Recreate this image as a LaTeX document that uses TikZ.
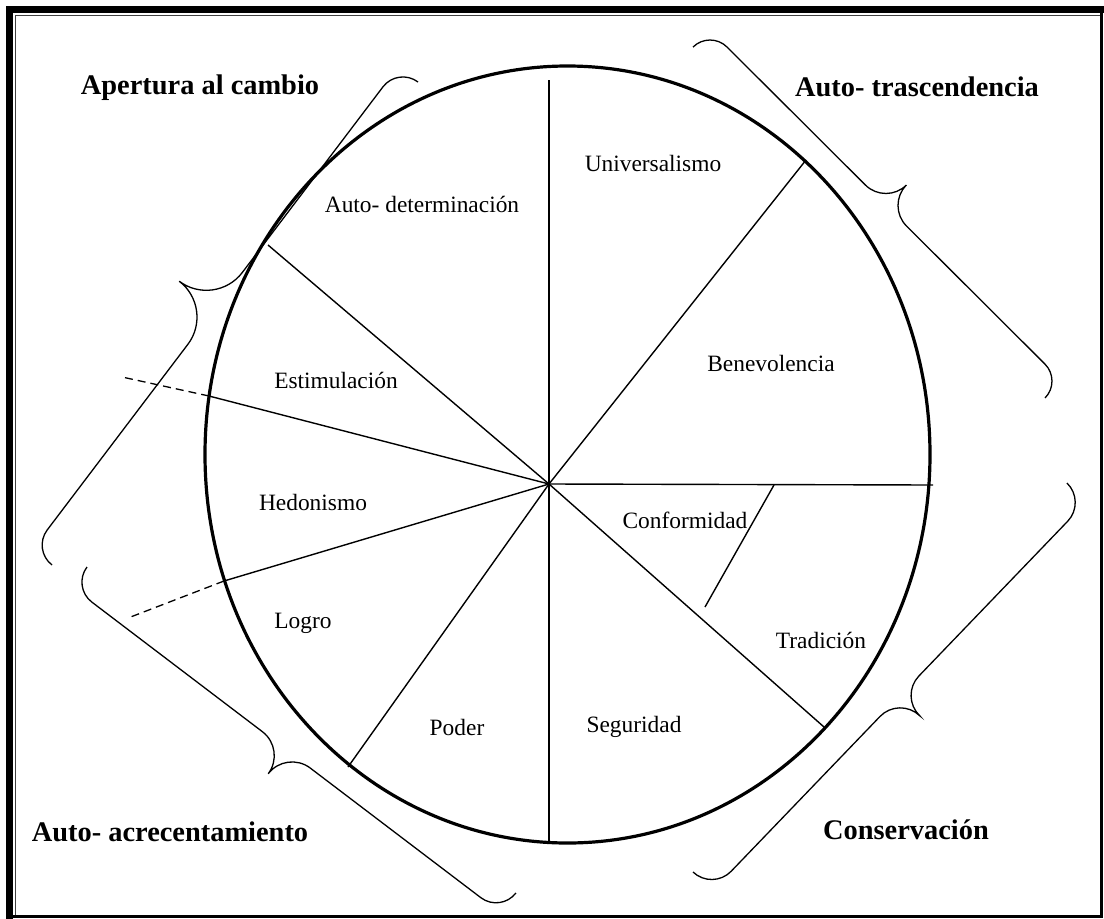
\documentclass[tikz,border=0pt]{standalone}
\usepackage{fontspec}
\setmainfont{Liberation Serif}
\usetikzlibrary{calc}

% curly brace from (#1,#2) to (#3,#4), bulging to the right of that direction;
% #5 = end hook, #6 = middle cusp
\newcommand\llave[6]{%
  \pgfmathsetmacro\llang{atan2(#2-#4,#3-#1)}%
  \pgfmathsetmacro\lllen{veclen(#3-#1,#4-#2)}%
  \pgfmathsetmacro\llmid{\lllen/2}%
  \begin{scope}[shift={(#1,#2)}, rotate=\llang]
    \draw[llave] (0,0) .. controls (0,{0.55*#5}) and ({0.45*#5},#5) .. (#5,#5)
      -- ({\llmid-#6},#5) .. controls ({\llmid-0.45*#6},#5) and (\llmid,{#5+0.45*#6}) .. (\llmid,{#5+#6})
      .. controls (\llmid,{#5+0.45*#6}) and ({\llmid+0.45*#6},#5) .. ({\llmid+#6},#5)
      -- ({\lllen-#5},#5) .. controls ({\lllen-0.45*#5},#5) and (\lllen,{0.55*#5}) .. (\lllen,0);
  \end{scope}}

\begin{document}
\begin{tikzpicture}[x=1pt, y=-1pt,
    valor/.style={font=\fontsize{23.4}{28}\selectfont},
    grupo/.style={font=\fontsize{28.4}{34}\selectfont\bfseries},
    radio/.style={line width=1.4pt},
    guia/.style={line width=1.3pt, dash pattern=on 8pt off 5pt},
    llave/.style={line width=1.3pt}
  ]
  \useasboundingbox (0,0) rectangle (1104,919);

  % page frame
  \draw[line width=7pt] (9.5,919) -- (9.5,9.5) -- (1104,9.5);
  \draw[line width=1.2pt, black!75] (15.5,916.5) -- (15.5,15.5) -- (1101.5,15.5);
  \draw[line width=3pt] (1101.5,9.5) -- (1101.5,916.5) -- (9.5,916.5);

  % the wheel
  \draw[line width=3.2pt] (567.5,454.5) ellipse [x radius=362.5pt, y radius=388.5pt];

  \coordinate (O)  at (549,484);
  \coordinate (n)  at (549,80);
  \coordinate (ne) at (806,160);
  \coordinate (e)  at (933,485);
  \coordinate (se) at (824,727);
  \coordinate (s)  at (549,843);
  \coordinate (so) at (348,767);
  \coordinate (o1) at (224,581);
  \coordinate (o2) at (209,396);
  \coordinate (no) at (268,245);
  \coordinate (c1) at (774,485);
  \coordinate (c2) at (705,607);
  \coordinate (g1) at (128,618);
  \coordinate (g2) at (122,377);

  \foreach \p in {n,ne,e,se,s,so,o1,o2,no}
    \draw[radio] (O) -- (\p);
  \draw[radio] (c1) -- (c2);
  \draw[guia] (o1) -- (g1);
  \draw[guia] (o2) -- (g2);

  % values
  \node[valor] (autodet) at (422,204) {Auto- determinación};
  \node[valor] (univ)    at (653,163) {Universalismo};
  \node[valor] (benev)   at (771,363) {Benevolencia};
  \node[valor] (estim)   at (336,380) {Estimulación};
  \node[valor] (hedon)   at (313,502) {Hedonismo};
  \node[valor] (logro)   at (303,623) {Logro};
  \node[valor] (poder)   at (457,727) {Poder};
  \node[valor] (segur)   at (634,727) {Seguridad};
  \node[valor] (confor)  at (685,520) {Conformidad};
  \node[valor] (tradic)  at (821,640) {Tradición};

  % higher order groups
  \node[grupo] (apertura) at (200,88)  {Apertura al cambio};
  \node[grupo] (trasc)    at (917,87)  {Auto- trascendencia};
  \node[grupo] (acrec)    at (170,832) {Auto- acrecentamiento};
  \node[grupo] (conserv)  at (906,830) {Conservación};

  \llave{418}{82}{52}{565}{25}{45}
  \llave{1045}{398}{693}{47}{24}{29}
  \llave{693}{872}{1067}{483}{27}{28}
  \llave{87}{567}{516}{893}{25}{30}
\end{tikzpicture}
\end{document}
